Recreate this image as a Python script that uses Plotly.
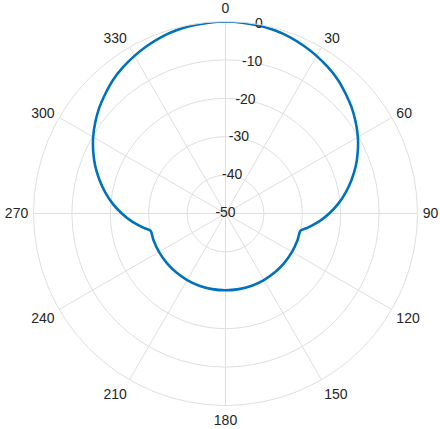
import plotly.graph_objects as go

# Pattern gain (dB), one half (0..180 deg); the other half mirrors it.
half_angles = [0, 5, 10, 15, 20, 25, 30, 35, 40, 45, 50, 55, 60, 65, 70, 75,
               80, 85, 90, 95, 100, 103, 110, 120, 130, 140, 150, 160, 170, 180]
half_gain = [0, -0.1, -0.3, -0.6, -1.1, -1.8, -2.6, -3.5, -4.5, -5.8, -7.1,
             -8.6, -10.2, -12.0, -13.9, -16.0, -18.2, -20.5, -23.0, -25.6,
             -28.4, -30, -30, -30, -30, -30, -30, -30, -30, -30]

angle_ticks = [0, 30, 60, 90, 120, 150, 180, 210, 240, 270, 300, 330]
radial_ticks = [-50, -40, -30, -20, -10, 0]
radial_label_angle = 10

theta = half_angles + [360 - a for a in reversed(half_angles[:-1])]
gain = half_gain + list(reversed(half_gain[:-1]))

grid = "#dfdfdf"
text_color = "#262626"
font = "Liberation Sans, Arial, sans-serif"

fig = go.Figure()
fig.add_trace(go.Scatterpolar(
    r=gain,
    theta=theta,
    mode="lines",
    line=dict(color="#0072BD", width=2.6, shape="spline", smoothing=0.6),
    hoverinfo="skip",
))

# Radial tick labels sit on a spoke, centered on each ring.
fig.add_trace(go.Scatterpolar(
    r=radial_ticks,
    theta=[radial_label_angle] * len(radial_ticks),
    mode="text",
    text=[str(v) for v in radial_ticks],
    textfont=dict(size=14, color=text_color, family=font),
    cliponaxis=False,
    hoverinfo="skip",
))

fig.update_layout(
    width=440,
    height=429,
    margin=dict(l=0, r=0, t=0, b=0),
    showlegend=False,
    paper_bgcolor="white",
    font=dict(family=font, size=14, color=text_color),
    polar=dict(
        domain=dict(x=[33.5 / 440, 417.5 / 440], y=[23.5 / 429, 407.5 / 429]),
        bgcolor="white",
        angularaxis=dict(
            rotation=90,
            direction="clockwise",
            tickmode="array",
            tickvals=angle_ticks,
            ticktext=[str(a) for a in angle_ticks],
            ticks="outside",
            ticklen=2,
            tickcolor="rgba(0,0,0,0)",
            gridcolor=grid,
            gridwidth=1,
            linecolor=grid,
            linewidth=1,
            tickfont=dict(size=14, color=text_color),
        ),
        radialaxis=dict(
            range=[-50, 0],
            tickvals=radial_ticks,
            showticklabels=False,
            ticks="",
            showline=False,
            gridcolor=grid,
            gridwidth=1,
        ),
    ),
)

# Drop the default page margin so the figure sits flush in the window.
fig.write_html(
    "out.html",
    config={"displayModeBar": False},
    post_script="document.body.style.margin = '0';",
)
